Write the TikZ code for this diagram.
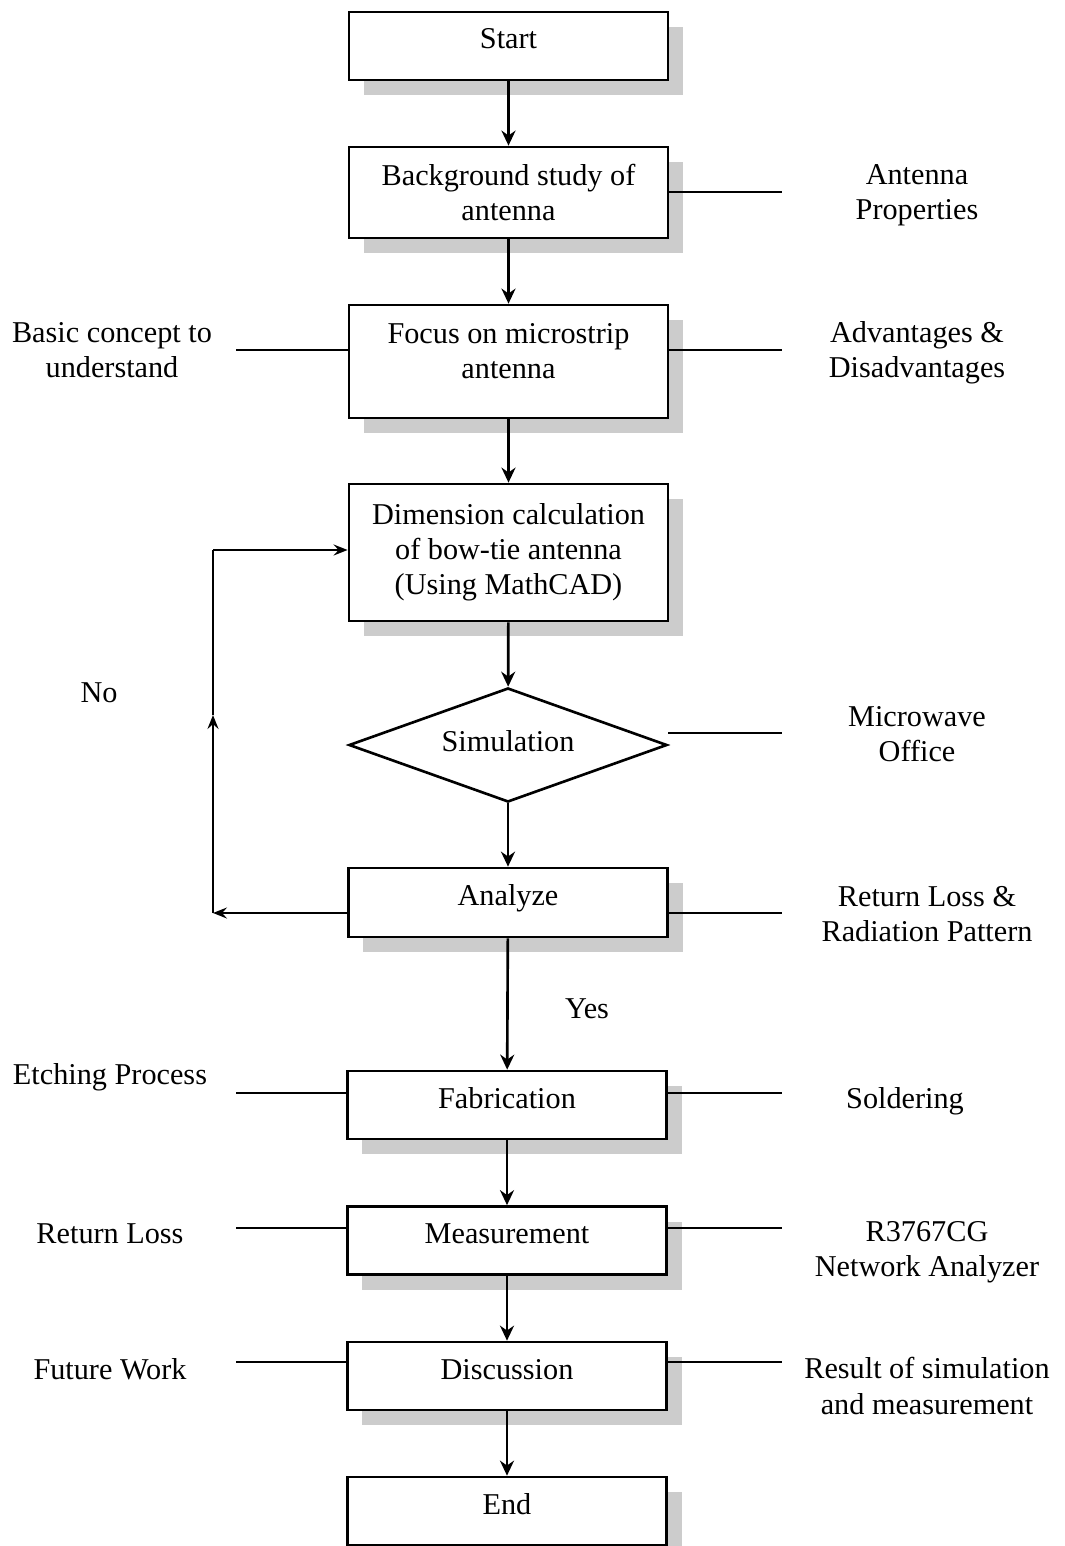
\documentclass[tikz,border=0pt]{standalone}
\usepackage{fontspec}
\setmainfont{Liberation Serif}
\usepackage{tikz}
\usetikzlibrary{arrows.meta, positioning, shapes.geometric, shadows}

\begin{document}
\begin{tikzpicture}[
    x=0.01cm, y=-0.01cm, line width=0.75pt,
    font=\fontsize{8.6}{10}\selectfont,
    -{Stealth[length=0.15cm, width=0.14cm]},
    block/.style={rectangle, draw, fill=white, align=center, inner sep=0pt,
        minimum width=3.19cm, minimum height=0.68cm,
        drop shadow={shadow xshift=0.15cm, shadow yshift=-0.15cm, fill=gray!40, opacity=1}},
    oneline/.style={text height=6pt, text depth=4.3pt},
    decide/.style={diamond, draw, fill=white, inner sep=0pt, aspect=2.8,
        minimum width=3.18cm, minimum height=1.14cm, text height=6pt, text depth=2.2pt},
    note/.style={align=center, inner sep=0pt},
    feed/.style={-{Stealth[length=0.14cm, width=0.11cm, inset=0.05cm]}}]

    \useasboundingbox (0,0) rectangle (1065,1546);

    % Define main steps
    \node[block, oneline] (start) at (508.5,46) {Start};
    \node[block, minimum height=0.91cm] (bg) at (508.5,192.5) {Background study of\\antenna};
    \node[block, minimum height=1.13cm, text height=16pt, text depth=6.5pt] (focus) at (508.5,361.5) {Focus on microstrip\\antenna};
    \node[block, minimum height=1.37cm] (dim) at (508.5,552.5) {Dimension calculation\\of bow-tie antenna\\(Using MathCAD)};
    \node[decide] (sim) at (508,745) {Simulation};
    \node[block, oneline, minimum height=0.69cm] (an) at (508,902.5) {Analyze};
    \node[block, oneline] (fab) at (507,1105) {Fabrication};
    \node[block, oneline] (meas) at (507,1240.5) {Measurement};
    \node[block, oneline] (disc) at (507,1376) {Discussion};
    \node[block, oneline] (end) at (507,1511) {End};

    % Define side notes
    \node[note] (prop) at (917,195.5) {Antenna\\Properties};
    \node[note] (basic) at (112,350) {Basic concept to\\understand};
    \node[note] (adv) at (917,353) {Advantages \&\\Disadvantages};
    \node[note] (mwo) at (917,734) {Microwave\\Office};
    \node[note] (rl) at (927,914) {Return Loss \&\\Radiation Pattern};
    \node[note] (etch) at (110,1077) {Etching Process};
    \node[note] (sold) at (905,1101) {Soldering};
    \node[note] (rl2) at (110,1234) {Return Loss};
    \node[note] (na) at (927,1252) {R3767CG\\Network Analyzer};
    \node[note] (fw) at (110,1369) {Future Work};
    \node[note] (res) at (927,1386) {Result of simulation\\and measurement};
    \node[note] (no) at (99,693) {No};
    \node[note] (yes) at (587,1009) {Yes};

    % Line ends for side notes
    \coordinate (bgR) at (782,192);
    \coordinate (focusL) at (236,350);
    \coordinate (focusR) at (782,350);
    \coordinate (simR) at (782,733);
    \coordinate (anR) at (782,913);
    \coordinate (fabL) at (236,1093);
    \coordinate (fabR) at (782,1093);
    \coordinate (measL) at (236,1228);
    \coordinate (measR) at (782,1228);
    \coordinate (discL) at (236,1362);
    \coordinate (discR) at (782,1362);

    % Loop back
    \coordinate (loopB) at (213,913);
    \coordinate (loopM) at (213,715);
    \coordinate (loopT) at (213,550);

    % Draw flow
    \path (start) edge (bg)
          (bg) edge (focus)
          (focus) edge (dim)
          (dim) edge (sim)
          (sim) edge (an)
          (an) edge (fab)
          (fab) edge (meas)
          (meas) edge (disc)
          (disc) edge (end);

    % Draw loop
    \draw[feed] (an.west |- loopB) -- (loopB);
    \draw[feed] (loopB) -- (loopM);
    \draw[-] (loopM) -- (loopT);
    \draw[feed] (loopT) -- (dim.west |- loopT);

    % Draw side lines
    \draw[-] (bg.east |- bgR) -- (bgR);
    \draw[-] (focus.west |- focusL) -- (focusL);
    \draw[-] (focus.east |- focusR) -- (focusR);
    \draw[-] (sim.east |- simR) -- (simR);
    \draw[-] (an.east |- anR) -- (anR);
    \draw[-] (fab.west |- fabL) -- (fabL);
    \draw[-] (fab.east |- fabR) -- (fabR);
    \draw[-] (meas.west |- measL) -- (measL);
    \draw[-] (meas.east |- measR) -- (measR);
    \draw[-] (disc.west |- discL) -- (discL);
    \draw[-] (disc.east |- discR) -- (discR);

\end{tikzpicture}
\end{document}
